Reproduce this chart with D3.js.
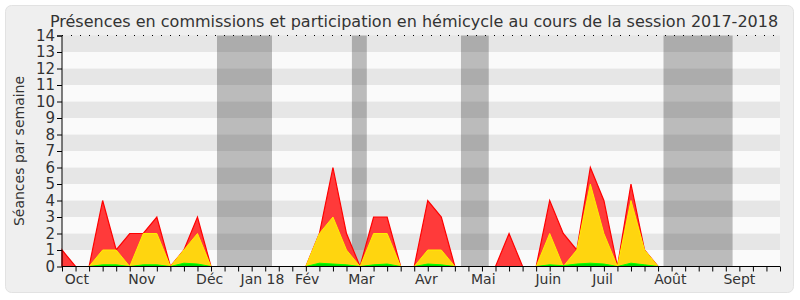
<!DOCTYPE html>
<html>
<head>
<meta charset="utf-8">
<script src="https://cdn.jsdelivr.net/npm/d3@7"></script>
<style>
  body { margin: 0; background: #fff; }
  text { font-family: "DejaVu Sans", sans-serif; fill: #333; }
</style>
</head>
<body>
<div id="chart"></div>
<script>
// weekly values, week 0 = first week of October 2017
const total = [1, 0, 0, 4, 1, 2, 2, 3, 0, 1, 3, 0, 0, 0, 0, 0, 0, 0,
  0, 2, 6, 2, 0, 3, 3, 0, 0, 4, 3, 0, 0, 0, 0, 2, 0, 0,
  4, 2, 1, 6, 4, 0, 5, 1, 0, 0, 0, 0, 0, 0, 0, 0, 0, 0];
const commissions = [0, 0, 0, 1, 1, 0, 2, 2, 0, 1, 2, 0, 0, 0, 0, 0, 0, 0,
  0, 2, 3, 1, 0, 2, 2, 0, 0, 1, 1, 0, 0, 0, 0, 0, 0, 0,
  2, 0, 1, 5, 2, 0, 4, 1, 0, 0, 0, 0, 0, 0, 0, 0, 0, 0];
const hemicycle = [0, 0, 0, 0.1, 0.1, 0, 0.1, 0.1, 0, 0.2, 0.15, 0, 0, 0, 0, 0, 0, 0,
  0, 0.2, 0.15, 0.1, 0, 0.1, 0.15, 0, 0, 0.15, 0.1, 0, 0, 0, 0, 0, 0, 0,
  0.1, 0.05, 0.15, 0.2, 0.15, 0, 0.2, 0.1, 0, 0, 0, 0, 0, 0, 0, 0, 0, 0];

// holidays (in weeks)
const vacances = [[11.44, 15.5], [21.4, 22.5], [29.45, 31.5], [44.4, 49.5]];

const monthLabels = ["Oct", "Nov", "Déc", "Jan 18", "Fév", "Mar", "Avr", "Mai", "Juin", "Juil", "Août", "Sept"];
const monthWeeks = [1.1, 5.9, 10.9, 14.8, 18.1, 22.1, 26.9, 31.1, 35.9, 39.9, 44.9, 50];

const yTicks = d3.range(0, 15);

const margin = { top: 35.5, left: 62, bottom: 33.5, right: 20 };
const fullWidth = 800, fullHeight = 300;
const width = fullWidth - margin.left - margin.right;
const height = fullHeight - margin.top - margin.bottom;

const root = d3.select("#chart").append("svg")
    .attr("width", fullWidth)
    .attr("height", fullHeight);

root.append("rect")
    .attr("x", 5.5).attr("y", 5.5)
    .attr("width", 788).attr("height", 287)
    .attr("rx", 6)
    .style("fill", "#efefef")
    .style("stroke", "#e2e2e2");

root.append("text")
    .attr("x", 414).attr("y", 27)
    .attr("text-anchor", "middle")
    .style("font-size", "16px")
    .text("Présences en commissions et participation en hémicycle au cours de la session 2017-2018");

const svg = root.append("g")
    .attr("transform", `translate(${margin.left}, ${margin.top})`);

const x = d3.scaleLinear().domain([0, total.length - 1]).range([0, width]);
const y = d3.scaleLinear().domain([0, 14]).range([height, 0]);

// stripes
svg.selectAll(".stripe")
    .data(yTicks.slice(0, -1))
    .enter().append("rect")
        .attr("x", 0)
        .attr("width", width)
        .attr("y", d => y(d + 1))
        .attr("height", d => y(d) - y(d + 1))
        .style("fill", d => d % 2 ? "#e6e6e6" : "#fafafa");

// holiday bands
svg.selectAll(".vac")
    .data(vacances)
    .enter().append("rect")
        .attr("x", d => x(d[0]))
        .attr("width", d => x(d[1]) - x(d[0]))
        .attr("y", 0)
        .attr("height", height)
        .style("fill", "rgba(0,0,0,0.25)");

const area = vals => d3.area()
    .x((d, i) => x(i))
    .y0(y(0))
    .y1(d => y(d))(vals);

svg.append("path").attr("d", area(total))
    .style("fill", "#ff3a3a").style("stroke", "#ff0000").style("stroke-width", 1.2);
svg.append("path").attr("d", area(commissions))
    .style("fill", "#ffd50f").style("stroke", "#ffee00").style("stroke-width", 1);
svg.append("path").attr("d", area(hemicycle))
    .style("fill", "#00e000").style("stroke", "#00ff00").style("stroke-width", 1);

// dotted top line
svg.append("line")
    .attr("x1", 0).attr("x2", width)
    .attr("y1", 0).attr("y2", 0)
    .style("stroke", "#000")
    .style("stroke-dasharray", "1,8");

const yAxis = d3.axisLeft(y).tickValues(yTicks).tickSize(5).tickPadding(2);
const gy = svg.append("g").call(yAxis);
gy.select(".domain").attr("d", `M-5,0.5H0V${height}`);
gy.selectAll("text").style("font-size", "15px").style("font-family", "DejaVu Sans").attr("fill", "#333");

const xAxis = d3.axisBottom(x).tickValues(d3.range(0, total.length)).tickSize(5).tickFormat("");
const gx = svg.append("g")
    .attr("transform", `translate(0, ${height})`)
    .call(xAxis);
gx.select(".domain").attr("d", `M0,0H${width}`);

svg.selectAll(".month")
    .data(monthLabels)
    .enter().append("text")
        .attr("x", (d, i) => x(monthWeeks[i]))
        .attr("y", height + 17)
        .attr("text-anchor", "middle")
        .style("font-size", "14px")
        .text(d => d);

root.append("text")
    .attr("transform", `translate(24, ${margin.top + height / 2}) rotate(-90)`)
    .attr("text-anchor", "middle")
    .style("font-size", "14px")
    .text("Séances par semaine");
</script>
</body>
</html>
